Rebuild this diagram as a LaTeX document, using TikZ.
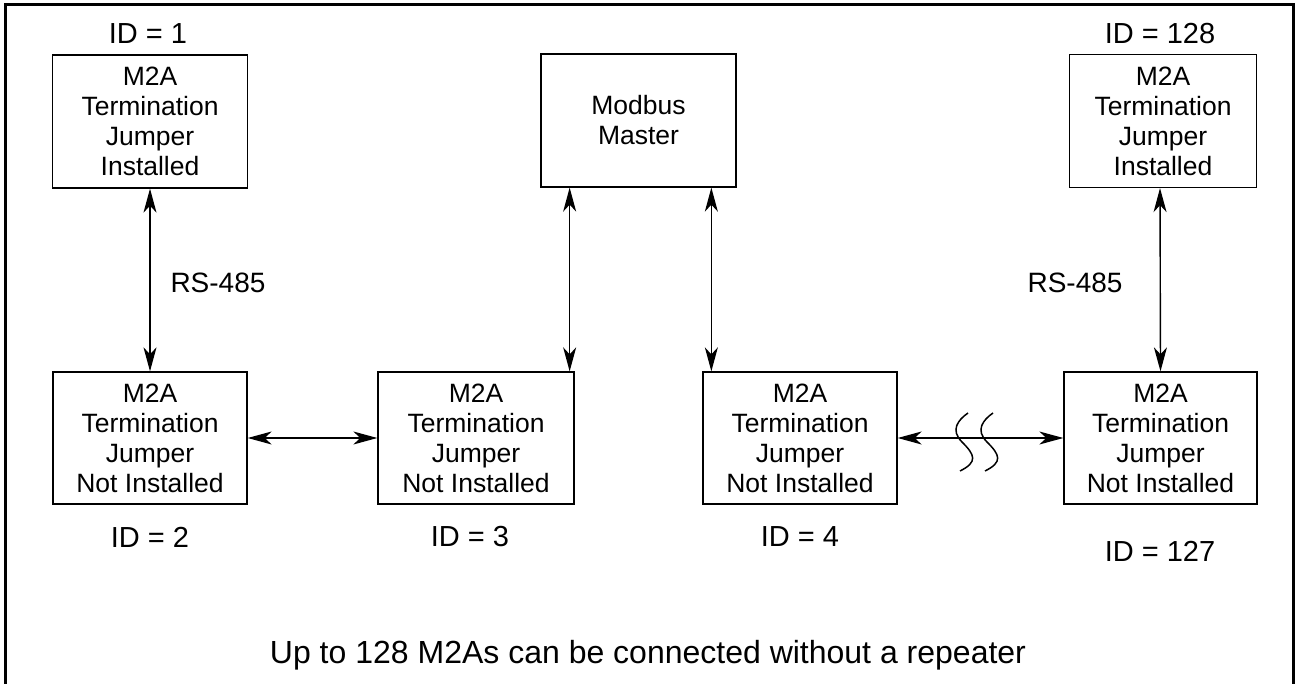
\documentclass[tikz,border=0pt]{standalone}
\usepackage{fontspec}
\setmainfont{Liberation Sans}
\usetikzlibrary{arrows.meta,calc}
\begin{document}
\begin{tikzpicture}[x=1pt,y=-1pt,
  box/.style={draw,line width=1.3pt,minimum width=195pt,minimum height=133pt,align=center,inner sep=0pt,
    font=\fontsize{26.5}{30}\selectfont},
  idlab/.style={inner sep=0pt,font=\fontsize{29}{33}\selectfont},
  arr/.style={line width=1.4pt,{Stealth[length=24pt,width=13pt,inset=7pt]}-{Stealth[length=24pt,width=13pt,inset=7pt]}},
  squig/.style={line width=1.5pt}]
\useasboundingbox (0,0) rectangle (1296,684);
\fill[white] (0,0) rectangle (1296,684);
\draw[line width=3pt] (5,684) -- (5,5) -- (1293,5) -- (1293,684);

\node[box] (b1) at (150,121.5) {M2A\\Termination\\Jumper\\Installed};
\node[box] (mm) at (638.5,120.5) {Modbus\\Master};
\node[box,minimum width=187pt] (b128) at (1163,121) {M2A\\Termination\\Jumper\\Installed};
\node[box,minimum width=194pt,minimum height=132pt] (b2) at (150,438) {M2A\\Termination\\Jumper\\Not Installed};
\node[box,minimum width=196pt,minimum height=132pt] (b3) at (476,438) {M2A\\Termination\\Jumper\\Not Installed};
\node[box,minimum width=194pt,minimum height=132pt] (b4) at (800,438) {M2A\\Termination\\Jumper\\Not Installed};
\node[box,minimum width=193pt,minimum height=132pt] (b127) at (1160.5,438) {M2A\\Termination\\Jumper\\Not Installed};

\node[idlab] (id1) at (148,34) {ID = 1};
\node[idlab] (id128) at (1160,34) {ID = 128};
\node[idlab] (id2) at (150,537) {ID = 2};
\node[idlab] (id3) at (470,537) {ID = 3};
\node[idlab] (id4) at (800,537) {ID = 4};
\node[idlab] (id127) at (1160,551) {ID = 127};

\node[idlab,font=\fontsize{28}{32}\selectfont] (rs1) at (218,283) {RS-485};
\node[idlab,font=\fontsize{28}{32}\selectfont] (rs2) at (1075,283) {RS-485};

\draw[arr] (b1.south) -- (b2.north);
\draw[arr] ([xshift=-3pt]b128.south) -- (b127.north);
\draw[arr] ([xshift=-5pt]b3.north east |- mm.south) -- ([xshift=-5pt]b3.north east);
\draw[arr] ([xshift=9pt]b4.north west |- mm.south) -- ([xshift=9pt]b4.north west);
\draw[arr] (b2.east) -- (b3.west);
\draw[arr] (b4.east) -- (b127.west);

\coordinate (s1) at (968,413);
\coordinate (s2) at (993,413);
\draw[squig] (s1) .. controls (958,420) and (950,430) .. (962,442) .. controls (975,455) and (978,462) .. (960,471);
\draw[squig] (s2) .. controls (983,420) and (975,430) .. (987,442) .. controls (1000,455) and (1003,462) .. (985,471);

\node[idlab,font=\fontsize{32}{36}\selectfont] (foot) at (648,655) {Up to 128 M2As can be connected without a repeater};
\end{tikzpicture}
\end{document}
